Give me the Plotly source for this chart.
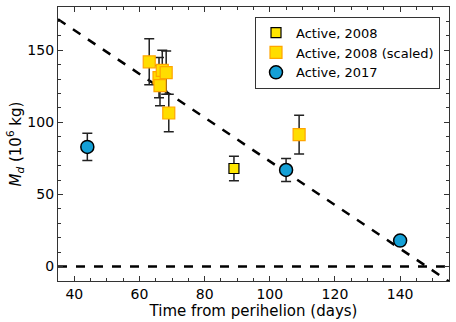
'''
    Dust mass versus time from perihelion, with a linear fit.
'''

import plotly.graph_objects as go

# Active, 2008
t_2008 = [89]
m_2008 = [68]
e_2008 = [8.5]

# Active, 2008 (scaled)
t_scaled = [63, 66, 66.3, 67, 68.2, 69, 109]
m_scaled = [142, 131, 125.5, 136, 134.5, 106.5, 91.5]
e_scaled = [16, 14, 14, 14, 15, 13, 13.5]

# Active, 2017
t_2017 = [44, 105, 140]
m_2017 = [83, 67, 18]
e_2017 = [9.5, 8, 2]

# dashed fit line, y = a + b * t
fit_t = [35, 155]
fit_a = 224.5
fit_b = -1.515

FONT = "DejaVu Sans"


def init_figure():
    fig = go.Figure()
    fig.update_layout(
        width=456, height=322,
        margin=dict(l=58, r=7, t=7, b=41, autoexpand=False),
        paper_bgcolor="white", plot_bgcolor="white",
        font=dict(family=FONT, size=14, color="black"),
        showlegend=True,
        legend=dict(
            x=0.977, y=0.965, xanchor="right", yanchor="top",
            bgcolor="white", bordercolor="#333", borderwidth=1,
            font=dict(size=13), tracegroupgap=0, itemwidth=30,
        ),
    )
    axis = dict(
        showline=True, linecolor="#333", linewidth=1.2, mirror="ticks",
        ticks="inside", ticklen=5, tickcolor="#333",
        showgrid=False, zeroline=False, automargin=False,
        tickfont=dict(size=14),
    )
    fig.update_xaxes(
        **axis, range=[35, 155], dtick=20, tick0=0,
        minor=dict(ticks="inside", ticklen=3, dtick=5, tickcolor="#333"),
        title=dict(text="Time from perihelion (days)", standoff=2,
                   font=dict(size=15)),
    )
    fig.update_yaxes(
        **axis, range=[-10, 180], dtick=50, tick0=0,
        minor=dict(ticks="inside", ticklen=3, dtick=10, tickcolor="#333"),
        title=dict(text="<i>M</i><sub><i>d</i></sub> (10<sup>6</sup> kg)",
                   standoff=2, font=dict(size=15)),
    )
    return fig


def draw(fig):
    # reference lines
    fig.add_trace(go.Scatter(
        x=fit_t, y=[fit_a + fit_b * t for t in fit_t],
        mode="lines", line=dict(color="black", width=2.5, dash="dash"),
        showlegend=False, hoverinfo="skip",
    ))
    fig.add_trace(go.Scatter(
        x=fit_t, y=[0, 0],
        mode="lines", line=dict(color="black", width=2.5, dash="dash"),
        showlegend=False, hoverinfo="skip",
    ))

    fig.add_trace(go.Scatter(
        x=t_2008, y=m_2008, name="Active, 2008", mode="markers",
        marker=dict(symbol="square", size=10, color="#ffe600",
                    line=dict(color="black", width=1.2)),
        error_y=dict(array=e_2008, color="#222", thickness=1.5, width=5),
    ))
    fig.add_trace(go.Scatter(
        x=t_scaled, y=m_scaled, name="Active, 2008 (scaled)", mode="markers",
        marker=dict(symbol="square", size=12, color="#ffdd00",
                    line=dict(color="#ffa500", width=1.2)),
        error_y=dict(array=e_scaled, color="#222", thickness=1.5, width=5),
    ))
    fig.add_trace(go.Scatter(
        x=t_2017, y=m_2017, name="Active, 2017", mode="markers",
        marker=dict(symbol="circle", size=13, color="#14a0d6",
                    line=dict(color="black", width=1.5)),
        error_y=dict(array=e_2017, color="#222", thickness=1.5, width=5),
    ))
    return fig


fig = draw(init_figure())
# page body has a default 8px margin; drop it so the figure fills the window
fig.write_html("out.html", config={"displayModeBar": False},
               post_script="document.body.style.margin='0';")
